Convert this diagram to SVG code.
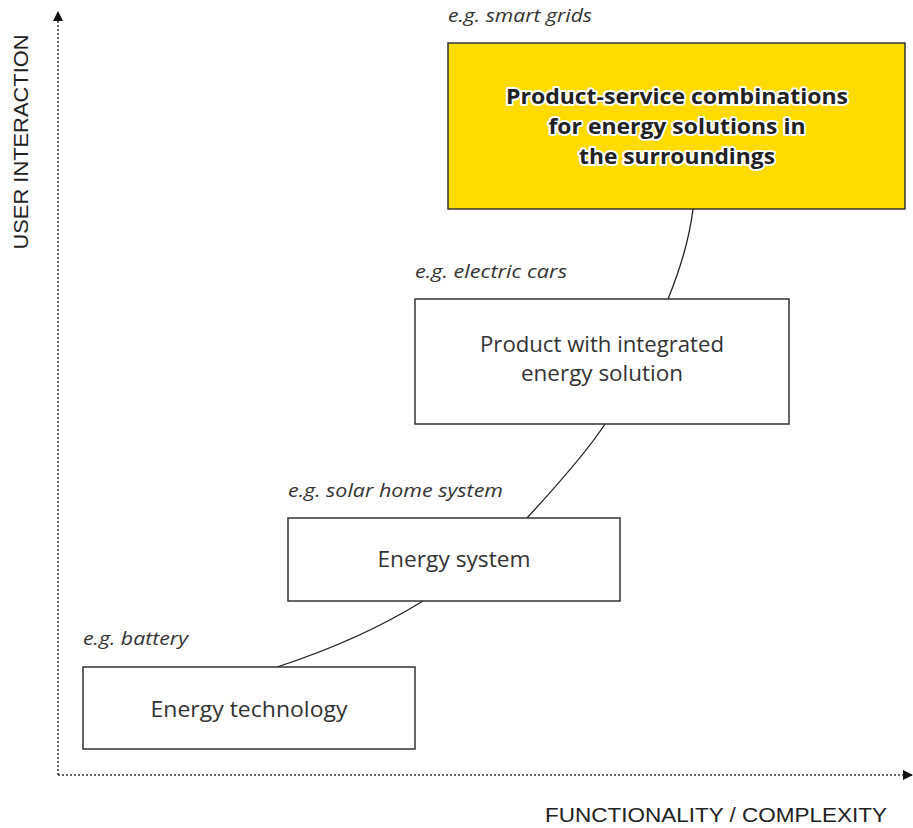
<svg xmlns="http://www.w3.org/2000/svg" width="913" height="828" viewBox="0 0 913 828">
<style>
.box{fill:#fff;stroke:#333;stroke-width:1.5}
.eg{font-family:"Open Sans","Liberation Sans",sans-serif;font-style:italic;font-size:18px;fill:#333}
.lbl{font-family:"Open Sans","Liberation Sans",sans-serif;font-size:21px;fill:#333;text-anchor:middle}
.bold{font-family:"Open Sans","Liberation Sans",sans-serif;font-size:22px;font-weight:bold;fill:#222;text-anchor:middle;stroke:#fff;stroke-width:4;paint-order:stroke;stroke-linejoin:round}
.axl{font-family:"Liberation Sans",sans-serif;font-size:21px;fill:#222}
.axis{fill:none;stroke:#333;stroke-width:1.5;stroke-dasharray:2 2}
.con{fill:none;stroke:#222;stroke-width:1.3}
</style>
<defs>
<marker id="arr" markerWidth="10" markerHeight="10" refX="9" refY="5" orient="auto" markerUnits="userSpaceOnUse">
<path d="M0,0 L10,5 L0,10 Z" fill="#111"/>
</marker>
</defs>
<g id="axes">
<path class="axis" d="M58,775 L58,12" marker-end="url(#arr)"/>
<path class="axis" d="M58,775 L912,775" marker-end="url(#arr)"/>
<text class="axl" transform="translate(28,142) rotate(-90)" text-anchor="middle" textLength="215" lengthAdjust="spacingAndGlyphs">USER INTERACTION</text>
<text class="axl" x="545" y="822" textLength="342" lengthAdjust="spacingAndGlyphs">FUNCTIONALITY / COMPLEXITY</text>
</g>
<g id="connectors">
<path class="con" d="M277,667 Q360,640 423,601"/>
<path class="con" d="M527,518 Q585,455 605,424"/>
<path class="con" d="M668,299 Q688,250 693,209"/>
</g>
<g id="node-smart">
<text class="eg" x="448" y="22" textLength="144" lengthAdjust="spacingAndGlyphs">e.g. smart grids</text>
<rect x="448" y="43" width="457" height="166" fill="#FFDB00" stroke="#333" stroke-width="1.5"/>
<text class="bold" x="677" y="104" textLength="342" lengthAdjust="spacingAndGlyphs">Product-service combinations</text>
<text class="bold" x="677" y="134" textLength="257" lengthAdjust="spacingAndGlyphs">for energy solutions in</text>
<text class="bold" x="677" y="164" textLength="196" lengthAdjust="spacingAndGlyphs">the surroundings</text>
</g>
<g id="node-product">
<text class="eg" x="415" y="278" textLength="152" lengthAdjust="spacingAndGlyphs">e.g. electric cars</text>
<rect class="box" x="415" y="299" width="374" height="125"/>
<text class="lbl" x="602" y="352" textLength="244" lengthAdjust="spacingAndGlyphs">Product with integrated</text>
<text class="lbl" x="602" y="381" textLength="162" lengthAdjust="spacingAndGlyphs">energy solution</text>
</g>
<g id="node-system">
<text class="eg" x="288" y="497" textLength="215" lengthAdjust="spacingAndGlyphs">e.g. solar home system</text>
<rect class="box" x="288" y="518" width="332" height="83"/>
<text class="lbl" x="454" y="567" textLength="153" lengthAdjust="spacingAndGlyphs">Energy system</text>
</g>
<g id="node-tech">
<text class="eg" x="83" y="645" textLength="105" lengthAdjust="spacingAndGlyphs">e.g. battery</text>
<rect class="box" x="83" y="667" width="332" height="82"/>
<text class="lbl" x="249" y="717" textLength="197" lengthAdjust="spacingAndGlyphs">Energy technology</text>
</g>
</svg>
